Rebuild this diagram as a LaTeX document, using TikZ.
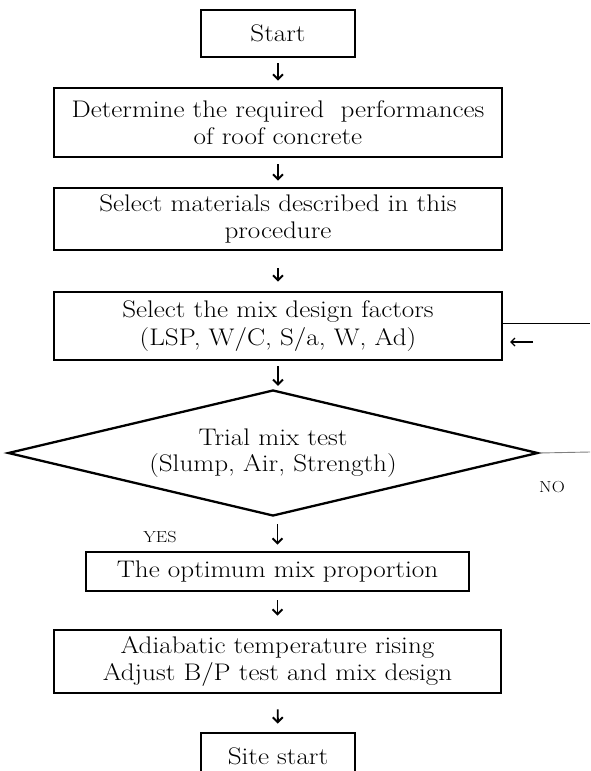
\documentclass[tikz,border=0pt]{standalone}
\usepackage{fontspec}
\newfontfamily\flowfont{Latin Modern Roman}[FakeStretch=1.13]
\usetikzlibrary{shapes.geometric,arrows.meta}
\newcommand\widetext[2]{\flowfont\fontsize{#1}{#2}\selectfont}
\begin{document}
\begin{tikzpicture}[x=1pt,y=-1pt,
    box/.style={rectangle,draw,line width=2.8pt,align=center,inner sep=0pt,font=\widetext{24}{27.5}},
    flow/.style={-{Straight Barb[length=5pt,width=10pt]},line width=1.9pt},
    tag/.style={font=\widetext{16}{18}}]
      \useasboundingbox (0,0) rectangle (590,771);
      \node[box,minimum width=154pt,minimum height=47pt] (start) at (278,33.5) {Start};
      \node[box,minimum width=448pt,minimum height=69pt] (perf) at (278,122.5) {Determine the required~ performances\\of roof concrete};
      \draw[flow,shorten <=5pt,shorten >=6pt] (start) to (perf);
      \node[box,minimum width=448pt,minimum height=62pt] (mat) at (278,219) {Select materials described in this\\procedure};
      \draw[flow,shorten <=6pt,shorten >=6pt] (perf) to (mat);
      \node[box,minimum width=448pt,minimum height=68pt] (factors) at (278,326) {Select the mix design factors\\(LSP, W/C, S/a, W, Ad)};
      \draw[flow,shorten <=17pt,shorten >=9pt] (mat) to (factors);
      \node[diamond,draw,line width=2.3pt,aspect=4,inner sep=0pt,minimum width=530pt,minimum height=126pt,align=center,font=\widetext{24}{26}] (trial) at (273,453) {Trial mix test\\(Slump, Air, Strength)};
      \draw[flow,shorten <=5pt,shorten >=3pt] (factors.south) to (factors.south |- trial.north);
      \node[box,minimum width=383pt,minimum height=39pt] (opt) at (277.5,571.5) {The optimum mix proportion};
      \draw[flow,shorten <=7pt,shorten >=6pt] (opt.north |- trial.south) to (opt.north);
      \node[box,minimum width=447pt,minimum height=63pt] (adia) at (277.5,661.5) {Adiabatic temperature rising\\Adjust B/P test and mix design};
      \draw[flow,shorten <=8pt,shorten >=13pt] (opt) to (adia);
      \node[box,minimum width=154pt,minimum height=47pt] (site) at (278,756.5) {Site start};
      \draw[flow,shorten <=15pt,shorten >=8pt] (adia) to (site);
      \node[tag] (yes) at (160,537) {YES};
      \node[tag] (no) at (552,487) {NO};
      \coordinate (fbtop) at (590,323);
      \coordinate (fbbot) at (590,452);
      \draw[line width=0.9pt] (factors.east |- fbtop) -- (fbtop);
      \draw[line width=0.9pt,gray] (trial.east) -- (fbbot);
      \coordinate (backfrom) at (533,342);
      \coordinate (backto) at (510,342);
      \draw[-{Straight Barb[length=4pt,width=8pt]},line width=1.4pt] (backfrom) -- (backto);
\end{tikzpicture}
\end{document}
